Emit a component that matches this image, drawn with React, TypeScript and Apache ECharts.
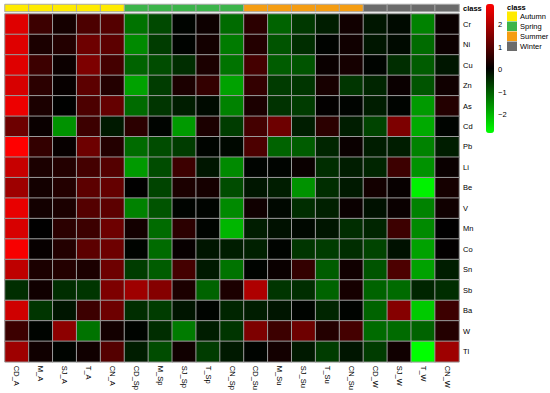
import React, { useEffect, useRef } from 'react';
import * as echarts from 'echarts';

const columns = ['CD_A', 'M_A', 'SJ_A', 'T_A', 'CN_A', 'CD_Sp', 'M_Sp', 'SJ_Sp', 'T_Sp', 'CN_Sp', 'CD_Su', 'M_Su', 'SJ_Su', 'T_Su', 'CN_Su', 'CD_W', 'SJ_W', 'T_W', 'CN_W'];
const rows = ['Cr', 'Ni', 'Cu', 'Zn', 'As', 'Cd', 'Pb', 'Li', 'Be', 'V', 'Mn', 'Co', 'Sn', 'Sb', 'Ba', 'W', 'Tl'];
const columnClass = ['Autumn', 'Autumn', 'Autumn', 'Autumn', 'Autumn', 'Spring', 'Spring', 'Spring', 'Spring', 'Spring', 'Summer', 'Summer', 'Summer', 'Summer', 'Summer', 'Winter', 'Winter', 'Winter', 'Winter'];
const classNames = ['Autumn', 'Spring', 'Summer', 'Winter'];
const colorbarTicks = [-2, -1, 0, 1, 2];
const scaleMin = -2.8;
const scaleMax = 2.93;

const Cr = [2.57, 0.74, 0.30, 0.92, 1.01, -1.23, -0.75, 0.02, 0.21, -1.14, 0.55, -1.05, -0.56, -0.26, 0.26, -0.18, -0.05, -1.40, 0.18];
const Ni = [2.57, 0.37, 0.46, 1.29, 1.10, -1.49, -0.61, 0.03, 0.28, -1.32, 0.46, -0.88, -0.44, 0.03, 0.24, -0.18, -0.05, -1.14, 0.20];
const Cu = [2.57, 0.74, 0.20, 1.47, 0.83, -1.05, -0.79, -0.44, 0.37, -1.23, 0.83, -0.97, -0.88, 0.18, 0.30, 0.02, -0.44, -0.97, -0.18];
const Zn = [2.48, 0.55, 0.14, 1.10, 0.46, -1.76, -0.61, 0.37, 0.64, -1.76, 0.64, -0.60, -0.53, 0.32, -0.53, -0.35, 0.18, -0.88, 0.24];
const As = [2.73, 0.37, 0.05, 0.92, 1.19, -1.14, -0.53, -0.26, -0.05, -1.40, 0.37, -0.50, -0.60, 0.10, 0.02, -0.26, 0.02, -1.67, 0.46];
const Cd = [1.29, 0.18, -1.58, 0.74, -0.22, 0.55, 0.02, -1.67, 0.37, -0.61, 0.83, 1.29, -0.26, 0.55, -0.26, -0.70, 1.47, -1.84, 0.02];
const Pb = [2.93, 0.64, 0.14, 1.29, 0.46, -1.14, -0.79, -0.61, 0.02, -0.03, 0.92, -1.05, -0.97, -0.35, 0.18, -0.26, -0.26, -1.40, -0.26];
const Li = [2.30, 0.37, 0.46, 0.83, 1.01, -1.67, -0.79, 0.74, -0.18, -1.49, 0.02, 0.02, 0.18, -0.44, -0.26, -0.35, 0.74, -1.58, 0.18];
const Be = [1.84, 0.28, 0.46, 1.10, 1.19, 0.08, -0.70, 0.37, 0.30, -0.79, -0.18, -0.26, -1.58, -0.44, -0.22, 0.28, 0.14, -2.65, 0.30];
const V = [2.67, 0.28, 0.37, 1.01, 1.10, -1.40, -0.88, 0.02, 0.02, -1.49, 0.24, -0.02, -0.44, -0.30, 0.18, -0.13, 0.18, -1.40, 0.24];
const Mn = [2.48, 0.08, 0.55, 0.74, 1.29, 0.28, -1.14, 0.55, 0.02, -1.98, -0.26, -0.13, -0.03, -0.17, -0.44, -0.35, 0.74, -1.49, 0.08];
const Co = [2.85, 0.14, 0.46, 1.10, 1.29, 0.02, -1.14, 0.14, -0.17, -0.26, -0.30, 0.02, -0.53, -0.61, -0.44, -0.70, -0.13, -1.76, 0.10];
const Sn = [2.20, 0.37, 0.46, 0.37, 1.29, -0.61, -0.97, 0.83, -0.22, -1.23, 0.02, 0.18, 0.64, -0.97, 0.24, -0.88, 0.92, -1.76, -0.26];
const Sb = [-0.44, 0.24, -0.44, -0.53, 1.47, 1.84, 1.56, 0.37, -1.05, 0.37, 2.02, -0.53, -0.44, -1.05, 0.30, -1.05, -1.14, -0.35, -0.44];
const Ba = [2.39, -0.53, -0.17, 0.74, 1.29, -0.44, -0.61, -0.17, 0.02, -0.35, -0.26, -0.17, 0.02, -0.35, 0.02, -1.05, 1.56, -2.20, 0.74];
const W = [0.74, 0.02, 1.65, -1.23, 0.28, 0.02, -0.44, -1.32, -0.26, -0.53, 1.47, 0.74, 1.29, 0.46, 0.83, -1.14, -1.14, -1.05, 0.46];
const Tl = [1.84, 0.24, 0.02, 0.24, 1.01, -0.26, -0.79, 0.24, -0.61, -0.22, 0.02, 0.28, -0.22, -0.61, -0.17, -0.61, 0.24, -2.80, 1.84];

const matrix = [Cr, Ni, Cu, Zn, As, Cd, Pb, Li, Be, V, Mn, Co, Sn, Sb, Ba, W, Tl];

const FONT = 'Liberation Sans, Arial, Helvetica, sans-serif';

export default function App() {
  const ref = useRef<HTMLDivElement>(null);
  useEffect(() => {
    if (!ref.current) return;
    const chart = echarts.init(ref.current, undefined, { renderer: 'svg' });
    const heatData: number[][] = [];
    matrix.forEach((rowVals, r) => rowVals.forEach((v, c) => heatData.push([c, r, v])));
    const annData = columnClass.map((cl, c) => [c, 0, classNames.indexOf(cl)]);
    const option: any = {
      animation: false,
      textStyle: { fontFamily: FONT },
      grid: [
        { left: 5, top: 14, width: 454, height: 349 },
        { left: 5, top: 4.5, width: 454, height: 7 },
        { left: 486, top: 4, width: 8, height: 129 },
      ],
      xAxis: [
        {
          type: 'category', data: columns, gridIndex: 0, position: 'bottom',
          axisLine: { show: false }, axisTick: { show: false },
          axisLabel: { rotate: -90, fontSize: 7.5, margin: 4, color: '#000', fontFamily: FONT, interval: 0 },
        },
        { type: 'category', data: columns, gridIndex: 1, show: false },
        { type: 'value', gridIndex: 2, show: false },
      ],
      yAxis: [
        {
          type: 'category', data: rows, gridIndex: 0, inverse: true, position: 'right',
          axisLine: { show: false }, axisTick: { show: false },
          axisLabel: { fontSize: 7.5, margin: 4, color: '#000', fontFamily: FONT, interval: 0 },
        },
        {
          type: 'category', data: ['class'], gridIndex: 1, position: 'right',
          axisLine: { show: false }, axisTick: { show: false },
          axisLabel: { fontSize: 7.5, margin: 4, color: '#000', fontWeight: 'bold', fontFamily: FONT },
        },
        {
          type: 'value', gridIndex: 2, min: scaleMin, max: scaleMax, position: 'right',
          axisLine: { show: false }, axisTick: { show: false }, splitLine: { show: false },
          axisLabel: {
            customValues: colorbarTicks, fontSize: 7.5, margin: 4, color: '#000', fontFamily: FONT,
            formatter: (v: number) => (v < 0 ? '\u2212' + Math.abs(v) : String(v)),
          },
        },
      ],
      visualMap: [
        {
          type: 'continuous', seriesIndex: 0, min: scaleMin, max: scaleMax, calculable: false,
          inRange: { color: ['#00FF00', '#000000', '#FF0000'] },
          left: 486, top: 4, itemWidth: 8, itemHeight: 129, padding: 0, text: null, hoverLink: false,
        },
        {
          type: 'piecewise', seriesIndex: 1, dimension: 2, inverse: true, align: 'left',
          pieces: [
            { value: 0, label: 'Autumn', color: '#FFEB00' },
            { value: 1, label: 'Spring', color: '#3CB44A' },
            { value: 2, label: 'Summer', color: '#F59D12' },
            { value: 3, label: 'Winter', color: '#6B6B6B' },
          ],
          itemSymbol: 'rect', itemWidth: 10, itemHeight: 9.5, itemGap: 0.5, textGap: 3,
          left: 507, top: 11.5, padding: 0, hoverLink: false, selectedMode: false,
          textStyle: { fontSize: 7.5, color: '#000', fontFamily: FONT },
        },
      ],
      graphic: [
        { type: 'text', left: 507, top: 3, style: { text: 'class', fontSize: 7.5, fontWeight: 'bold', fill: '#000', fontFamily: FONT } },
      ],
      series: [
        {
          type: 'heatmap', xAxisIndex: 0, yAxisIndex: 0, data: heatData,
          itemStyle: { borderColor: '#9a9a9a', borderWidth: 1 },
          emphasis: { disabled: true },
        },
        {
          type: 'heatmap', xAxisIndex: 1, yAxisIndex: 1, data: annData,
          itemStyle: { borderColor: '#a8a8a8', borderWidth: 1 },
          emphasis: { disabled: true },
        },
      ],
    };
    chart.setOption(option);
    return () => chart.dispose();
  }, []);
  return <div ref={ref} style={{ position: 'absolute', left: 0, top: 0, width: 550, height: 393, background: '#fff' }} />;
}
